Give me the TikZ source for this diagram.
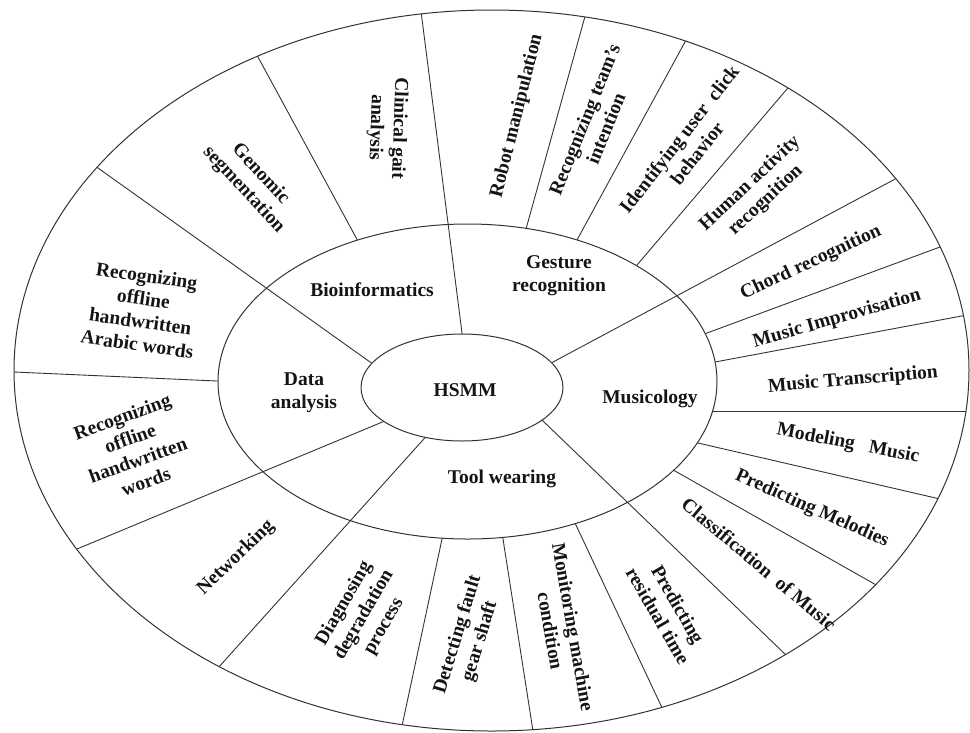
\documentclass[tikz,border=0pt]{standalone}
\usepackage{fontspec}
\setmainfont{Liberation Serif}
\usetikzlibrary{calc}

\begin{document}
\begin{tikzpicture}[x=1pt,y=-1pt,
  ringline/.style={draw=black!80, line width=1pt},
  divider/.style={draw=black!80, line width=0.9pt},
  lbl/.style={font=\bfseries\fontsize{19.5}{23}\selectfont, align=center,
              inner sep=0pt, text=black!92}]
\useasboundingbox (0,0) rectangle (970,732);

% centres of the three ellipses
\coordinate (oc) at (491.5,370.5);
\coordinate (mc) at (467.5,381.5);
\coordinate (ic) at (462,387.5);

% category dividers (inner ellipse to outer ellipse)
\coordinate (a1) at (462,333); \coordinate (a2) at (422,19);
\coordinate (b1) at (553,362); \coordinate (b2) at (897,178);
\coordinate (c1) at (543,421); \coordinate (c2) at (787,656);
\coordinate (d1) at (422,441); \coordinate (d2) at (218,668);
\coordinate (e1) at (380,423); \coordinate (e2) at (77,549);
\coordinate (f1) at (370,362); \coordinate (f2) at (98,168);

% application dividers (middle ellipse to outer ellipse)
\coordinate (g1) at (359,243); \coordinate (g2) at (258,57);
\coordinate (r1) at (526,229); \coordinate (r2) at (584,20);
\coordinate (s1) at (577,240); \coordinate (s2) at (685,42);
\coordinate (u1) at (637,265); \coordinate (u2) at (787,89);
\coordinate (m1) at (707,333); \coordinate (m2) at (940,247);
\coordinate (n1) at (715,362); \coordinate (n2) at (967,315);
\coordinate (p1) at (715,411); \coordinate (p2) at (975,411);
\coordinate (q1) at (698,443); \coordinate (q2) at (940,499);
\coordinate (v1) at (675,471); \coordinate (v2) at (878,586);
\coordinate (t1) at (575,523); \coordinate (t2) at (665,714);
\coordinate (w1) at (503,539); \coordinate (w2) at (533,731);
\coordinate (z1) at (442,539); \coordinate (z2) at (402,726);
\coordinate (h1) at (217,381); \coordinate (h2) at (14,372);

% outer ring dividers, clipped to the outer ellipse
\begin{scope}
  \clip (oc) ellipse [x radius=477.5pt, y radius=360.5pt];
  \foreach \s/\e in {g1/g2, r1/r2, s1/s2, u1/u2, m1/m2, n1/n2, p1/p2,
                     q1/q2, v1/v2, t1/t2, w1/w2, z1/z2, h1/h2}
    \draw[divider] ($(\s)!-0.12!(\e)$) -- ($(\s)!1.08!(\e)$);
\end{scope}

% middle ring background
\fill[white] (mc) ellipse [x radius=249.5pt, y radius=157.5pt];

% category dividers crossing both rings
\begin{scope}
  \clip (oc) ellipse [x radius=477.5pt, y radius=360.5pt];
  \foreach \s/\e in {a1/a2, b1/b2, c1/c2, d1/d2, e1/e2, f1/f2}
    \draw[divider] ($(\s)!-0.15!(\e)$) -- ($(\s)!1.08!(\e)$);
\end{scope}

% ellipse outlines
\draw[ringline] (mc) ellipse [x radius=249.5pt, y radius=157.5pt];
\filldraw[ringline, fill=white] (ic) ellipse [x radius=101pt, y radius=53.5pt];
\draw[ringline] (oc) ellipse [x radius=477.5pt, y radius=360.5pt];

% centre and categories
\node[lbl] (hsmm) at (465,390) {HSMM};
\node[lbl] (bio)  at (372,290) {Bioinformatics};
\node[lbl] (gest) at (559,276) {Gesture\\recognition};
\node[lbl] (musi) at (650,399) {Musicology};
\node[lbl] (tool) at (502,479) {Tool wearing};
\node[lbl] (data) at (304,393) {Data\\analysis};

% applications
\node[lbl, rotate=-92] (gait)  at (387,128) {Clinical gait\\analysis};
\node[lbl, rotate=-47] (geno)  at (252,182) {Genomic\\segmentation};
\node[lbl, rotate=-8]  (arab)  at (142,310) {Recognizing\\offline\\handwritten\\Arabic words};
\node[lbl, rotate=20]  (hand)  at (134,449) {Recognizing\\offline\\handwritten\\words};
\node[lbl, rotate=44]  (net)   at (236,558) {Networking};
\node[lbl, rotate=60]  (diag)  at (364,615) {Diagnosing\\degradation\\process};
\node[lbl, rotate=73]  (fault) at (469,638) {Detecting fault\\gear shaft};
\node[lbl, rotate=-80] (moni)  at (562,629) {Monitoring machine\\condition};
\node[lbl, rotate=-60] (resid) at (668,610) {Predicting\\residual time};
\node[lbl, rotate=-40] (class) at (759,564) {Classification\ \ of Music};
\node[lbl, rotate=-24] (melo)  at (812,509) {Predicting Melodies};
\node[lbl, rotate=-11] (model) at (848,444) {Modeling\ \ \ Music};
\node[lbl, rotate=5]   (trans) at (853,380) {Music Transcription};
\node[lbl, rotate=16]  (impro) at (837,319) {Music Improvisation};
\node[lbl, rotate=25]  (chord) at (811,263) {Chord recognition};
\node[lbl, rotate=43]  (human) at (758,192) {Human activity\\recognition};
\node[lbl, rotate=52]  (click) at (688,146) {Identifying user\ \ click\\behavior};
\node[lbl, rotate=68]  (team)  at (595,124) {Recognizing team’s\\intention};
\node[lbl, rotate=76]  (robot) at (517,116) {Robot manipulation};
\end{tikzpicture}
\end{document}
